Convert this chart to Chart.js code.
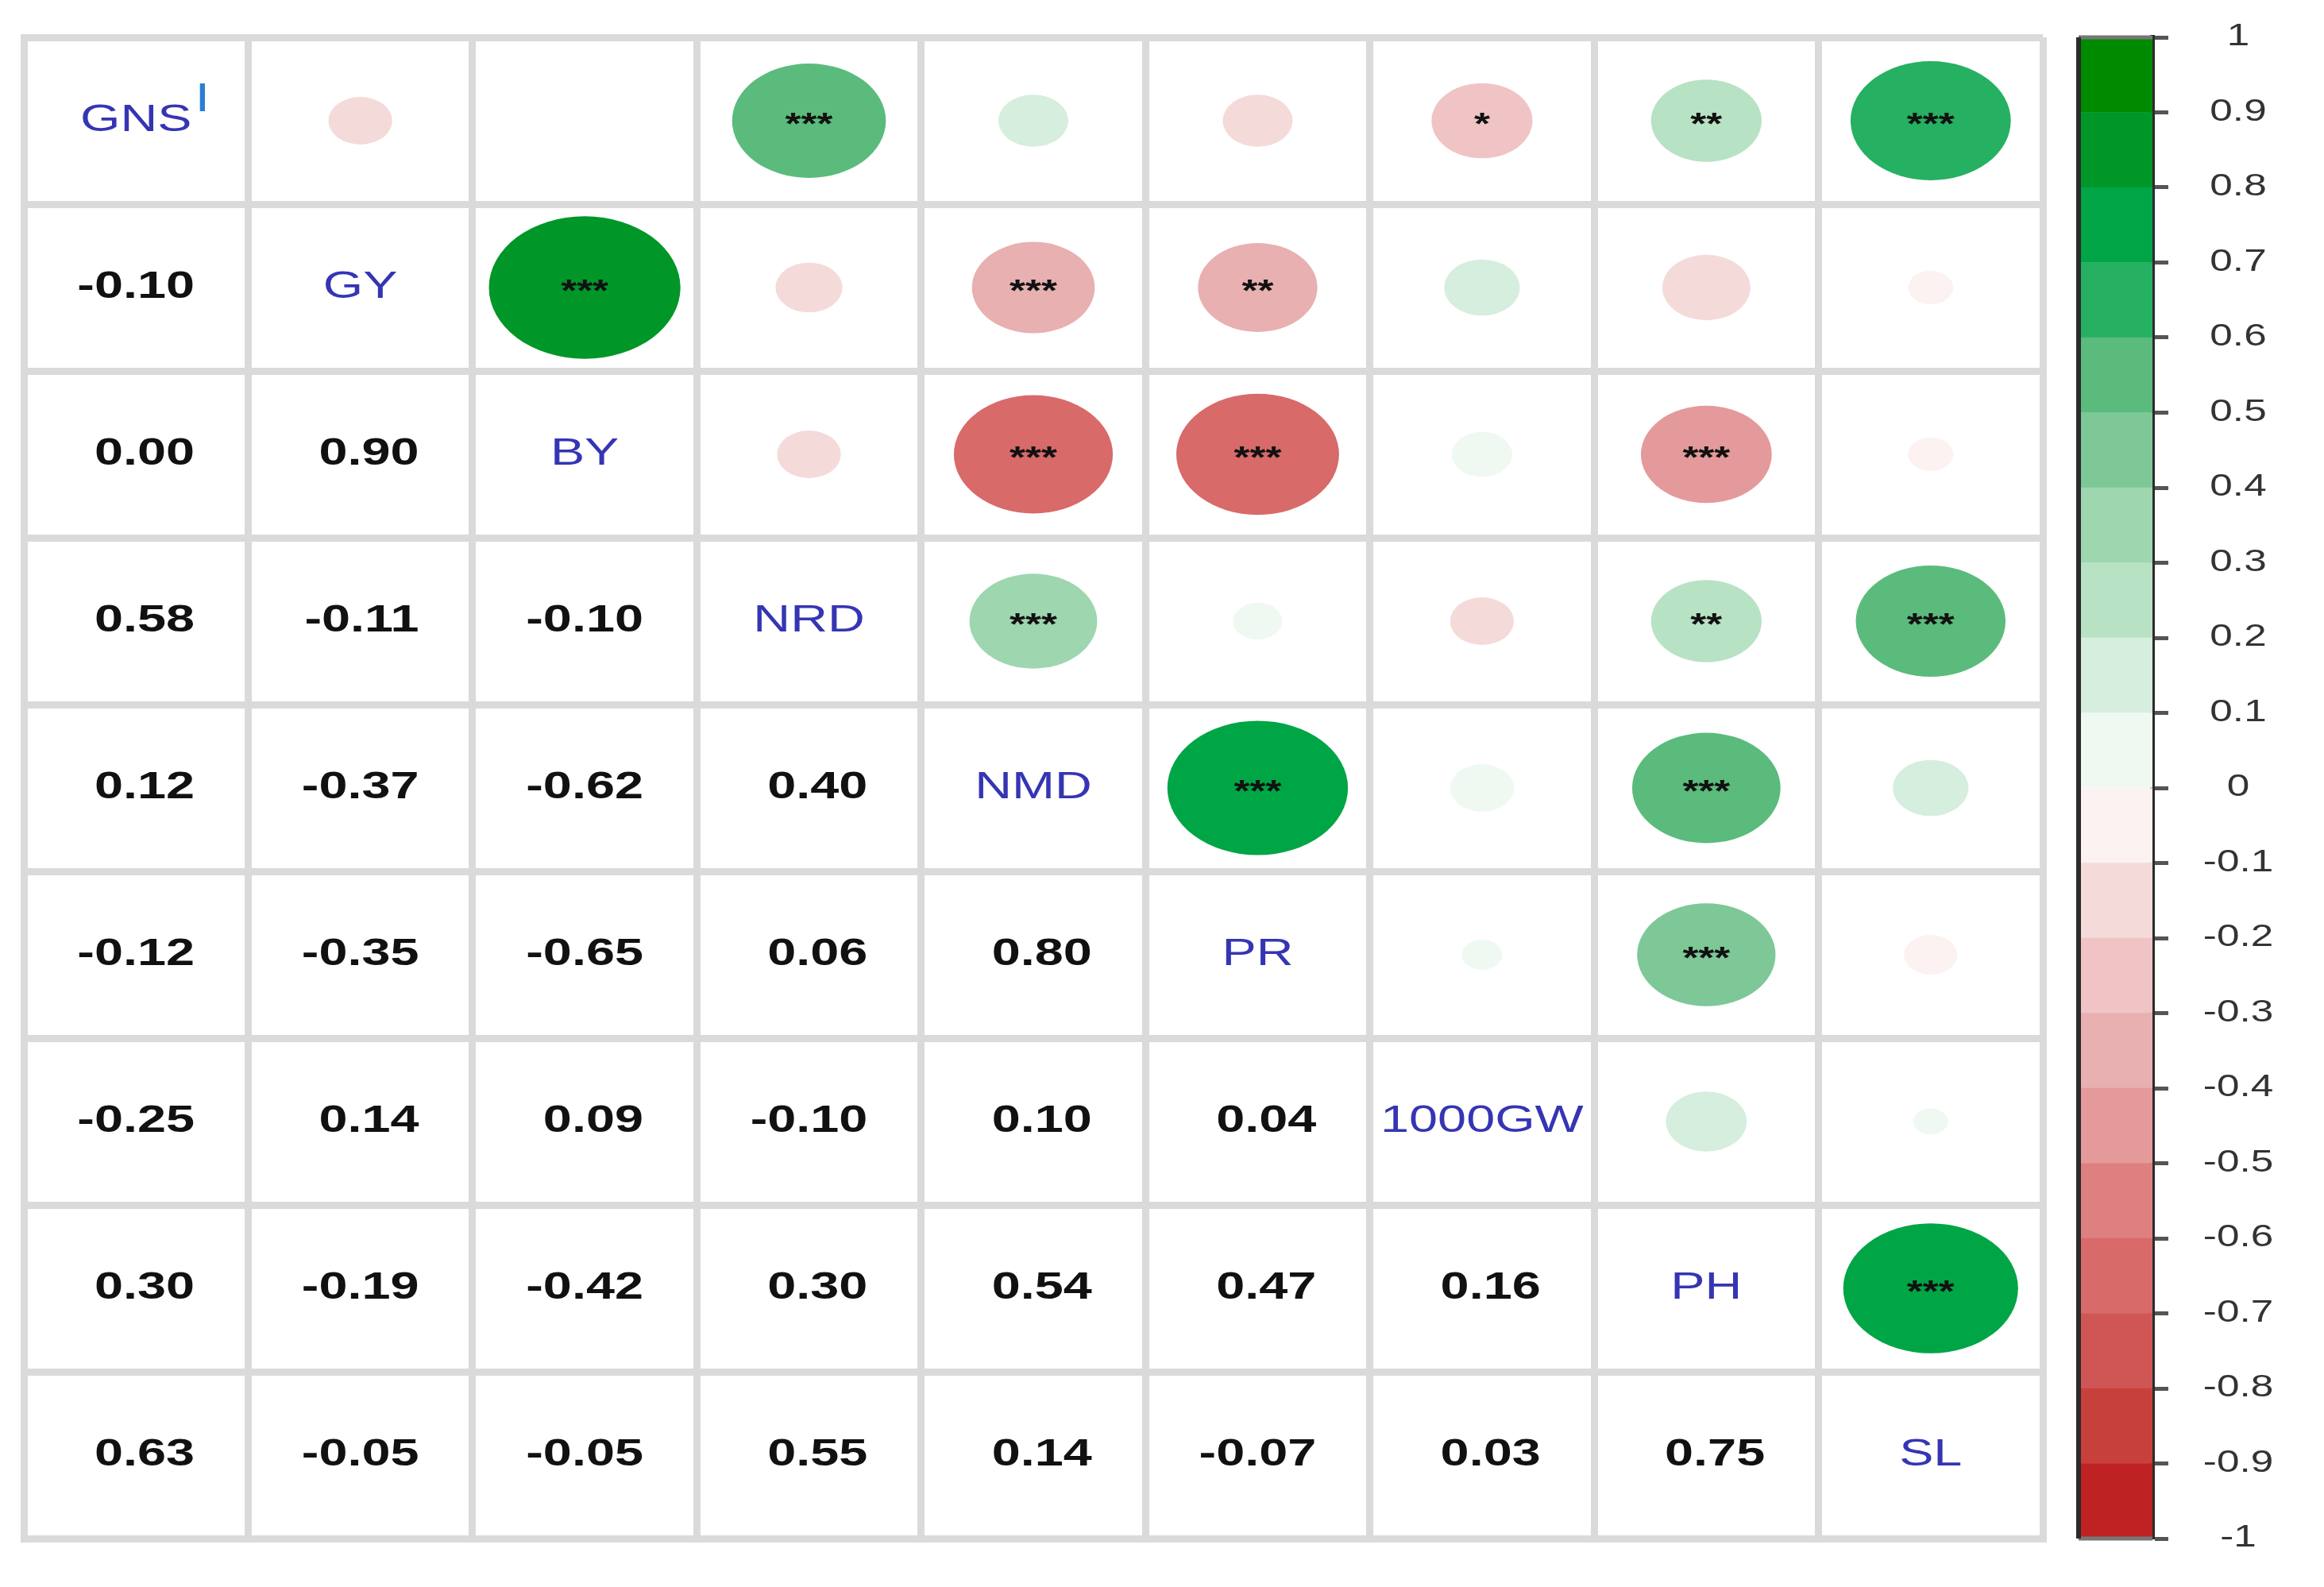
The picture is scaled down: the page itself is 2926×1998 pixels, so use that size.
<!DOCTYPE html>
<html>
<head>
<meta charset="utf-8">
<script src="https://cdn.jsdelivr.net/npm/chart.js@4.4.0/dist/chart.umd.min.js"></script>
<style>
  html, body { margin: 0; padding: 0; background: #fff; }
  #matrixBox { position: absolute; left: 0; top: 0; width: 2600px; height: 1998px; }
  #barBox { position: absolute; left: 2600px; top: 0; width: 326px; height: 1998px; }
</style>
</head>
<body>
<div id="matrixBox"><canvas id="matrix"></canvas></div>
<div id="barBox"><canvas id="colorbar"></canvas></div>
<script>
// traits, in matrix order
const traits = ["GNS", "GY", "BY", "NRD", "NMD", "PR", "1000GW", "PH", "SL"];
const footnoteMark = "I";

// lower triangle: corrRows[i][j] = r(trait i, trait j), j < i
const corrRows = [
  [],
  [-0.10],
  [0.00, 0.90],
  [0.58, -0.11, -0.10],
  [0.12, -0.37, -0.62, 0.40],
  [-0.12, -0.35, -0.65, 0.06, 0.80],
  [-0.25, 0.14, 0.09, -0.10, 0.10, 0.04],
  [0.30, -0.19, -0.42, 0.30, 0.54, 0.47, 0.16],
  [0.63, -0.05, -0.05, 0.55, 0.14, -0.07, 0.03, 0.75]
];

// upper triangle significance: sigRows[i][k] is for column i + 1 + k
const sigRows = [
  ["", "", "***", "", "", "*", "**", "***"],
  ["***", "", "***", "**", "", "", ""],
  ["", "***", "***", "", "***", ""],
  ["***", "", "", "**", "***"],
  ["***", "", "***", ""],
  ["", "***", ""],
  ["", ""],
  ["***"]
];

// colour bar tick values
const colorbarTicks = [1, 0.9, 0.8, 0.7, 0.6, 0.5, 0.4, 0.3, 0.2, 0.1, 0,
  -0.1, -0.2, -0.3, -0.4, -0.5, -0.6, -0.7, -0.8, -0.9, -1];

// 20 colour steps from -1 (first) to 1 (last)
const colorSteps = [
  "#be2222", "#c8403c", "#d05656", "#d86a6a", "#de8080",
  "#e49a9a", "#e8b0b0", "#f0c4c4", "#f5dada", "#fcf2f2",
  "#f0f8f2", "#d6eedd", "#b8e2c4", "#9ed6b0", "#7dc896",
  "#5abb7d", "#26b062", "#00a546", "#009628", "#008a00"
];

const STRETCH = 1.35;  // the figure is wider than tall, text too
const FONT = "'Liberation Sans', Arial, sans-serif";

// bins are (lo, hi]
function stepColor(r) {
  let k = Math.ceil((r + 1) * 10 - 1e-9) - 1;
  return colorSteps[Math.max(0, Math.min(19, k))];
}

function wideText(ctx, text, x, y) {
  ctx.save();
  ctx.translate(x, y);
  ctx.scale(STRETCH, 1);
  ctx.fillText(text, 0, 0);
  ctx.restore();
}

// build the cell points
const diagPts = [], lowerPts = [], upperPts = [];
traits.forEach((t, i) => {
  diagPts.push({ x: i + 0.5, y: i + 0.5, label: t });
  for (let j = 0; j < 9; j++) {
    if (j < i) lowerPts.push({ x: j + 0.5, y: i + 0.5, r: corrRows[i][j] });
    if (j > i) upperPts.push({ x: j + 0.5, y: i + 0.5, r: corrRows[j][i], sig: sigRows[i][j - i - 1] });
  }
});

const matrixPainter = {
  id: 'matrixPainter',
  afterDatasetsDraw(chart) {
    const ctx = chart.ctx;
    const xs = chart.scales.x, ys = chart.scales.y;
    const cw = Math.abs(xs.getPixelForValue(1) - xs.getPixelForValue(0));
    const ch = Math.abs(ys.getPixelForValue(1) - ys.getPixelForValue(0));

    chart.data.datasets.forEach((ds, di) => {
      const meta = chart.getDatasetMeta(di);
      meta.data.forEach((pt, k) => {
        const d = ds.data[k];
        const cx = pt.x, cy = pt.y;
        if (ds.kind === 'upper') {
          const f = 0.45 * Math.sqrt(Math.abs(d.r));
          if (f > 0) {
            ctx.beginPath();
            ctx.ellipse(cx, cy, f * cw, f * ch, 0, 0, Math.PI * 2);
            ctx.fillStyle = stepColor(d.r);
            ctx.fill();
          }
          if (d.sig) {
            ctx.font = 'bold 38px ' + FONT;
            ctx.fillStyle = '#111';
            ctx.textAlign = 'center';
            ctx.textBaseline = 'alphabetic';
            wideText(ctx, d.sig, cx, cy + 0.45 * 38);
          }
        } else if (ds.kind === 'lower') {
          ctx.font = 'bold 48px ' + FONT;
          ctx.fillStyle = '#111';
          ctx.textBaseline = 'middle';
          ctx.textAlign = 'right';
          const half = ctx.measureText('-0.00').width * STRETCH / 2;
          wideText(ctx, d.r.toFixed(2), cx + half, cy);
        } else {
          ctx.font = '48px ' + FONT;
          ctx.fillStyle = '#3535b4';
          ctx.textBaseline = 'middle';
          ctx.textAlign = 'center';
          wideText(ctx, d.label, cx, cy);
          if (k === 0) {
            const w = ctx.measureText(d.label).width * STRETCH;
            ctx.font = '50px ' + FONT;
            ctx.fillStyle = '#2a7fd4';
            ctx.textAlign = 'left';
            ctx.textBaseline = 'alphabetic';
            wideText(ctx, footnoteMark, cx + w / 2 + 4, cy - 12);
          }
        }
      });
    });
  }
};

const gridStyle = { color: '#dadada', lineWidth: 9, drawTicks: false };

new Chart(document.getElementById('matrix'), {
  type: 'scatter',
  data: {
    datasets: [
      { kind: 'upper', data: upperPts, pointRadius: 0, pointHoverRadius: 0 },
      { kind: 'lower', data: lowerPts, pointRadius: 0, pointHoverRadius: 0 },
      { kind: 'diag', data: diagPts, pointRadius: 0, pointHoverRadius: 0 }
    ]
  },
  options: {
    responsive: true,
    maintainAspectRatio: false,
    animation: false,
    layout: { padding: { left: 30, top: 47, right: 28, bottom: 61 } },
    scales: {
      x: {
        type: 'linear', min: 0, max: 9,
        ticks: { stepSize: 1, display: false },
        grid: gridStyle,
        border: { display: true, color: '#dadada', width: 9 }
      },
      y: {
        type: 'linear', min: 0, max: 9, reverse: true,
        ticks: { stepSize: 1, display: false },
        grid: gridStyle,
        border: { display: true, color: '#dadada', width: 9 }
      }
    },
    plugins: { legend: { display: false }, tooltip: { enabled: false } }
  },
  plugins: [matrixPainter]
});

// colour bar
const binEdges = colorbarTicks.slice().reverse();

const colorbarPainter = {
  id: 'colorbarPainter',
  afterDraw(chart) {
    const ctx = chart.ctx;
    const a = chart.chartArea;
    const ys = chart.scales.y;
    ctx.save();
    ctx.strokeStyle = '#777';
    ctx.lineWidth = 5;
    ctx.beginPath();
    ctx.moveTo(a.left, a.top); ctx.lineTo(a.right, a.top);
    ctx.moveTo(a.left, a.bottom); ctx.lineTo(a.right, a.bottom);
    ctx.stroke();
    ctx.strokeStyle = '#2b2b2b';
    ctx.lineWidth = 6;
    ctx.beginPath();
    ctx.moveTo(a.left, a.top); ctx.lineTo(a.left, a.bottom);
    ctx.stroke();
    ctx.restore();

    ctx.font = '38px ' + FONT;
    ctx.fillStyle = '#333';
    ctx.textAlign = 'center';
    ctx.textBaseline = 'middle';
    colorbarTicks.forEach(v => {
      wideText(ctx, String(v), a.right + 108, ys.getPixelForValue(v));
    });
  }
};

new Chart(document.getElementById('colorbar'), {
  type: 'bar',
  data: {
    labels: ['r'],
    datasets: colorSteps.map((c, k) => ({
      data: [[binEdges[k], binEdges[k + 1]]],
      backgroundColor: c,
      borderWidth: 0,
      barPercentage: 1,
      categoryPercentage: 1,
      grouped: false
    }))
  },
  options: {
    responsive: true,
    maintainAspectRatio: false,
    animation: false,
    layout: { padding: { left: 17, top: 47, right: 0, bottom: 61 } },
    scales: {
      x: { display: false },
      y: {
        position: 'right', min: -1, max: 1,
        afterBuildTicks: s => { s.ticks = colorbarTicks.map(v => ({ value: v })); },
        afterFit: s => { s.width = 216; },
        ticks: { display: false },
        grid: { drawOnChartArea: false, drawTicks: true, tickLength: 20, tickColor: '#555', tickWidth: 5 },
        border: { display: true, color: '#2b2b2b', width: 6 }
      }
    },
    plugins: { legend: { display: false }, tooltip: { enabled: false } }
  },
  plugins: [colorbarPainter]
});
</script>
</body>
</html>
